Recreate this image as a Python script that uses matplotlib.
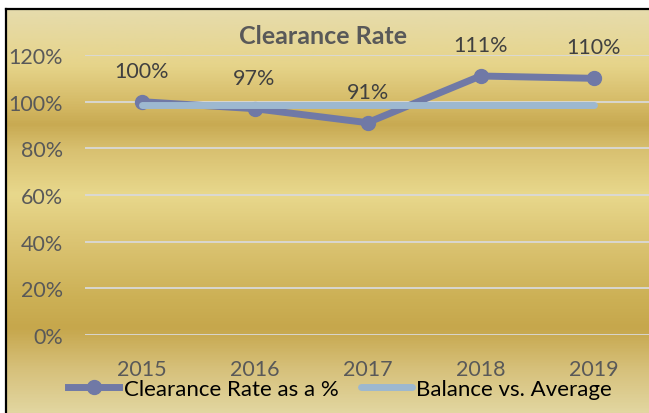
import numpy as np
import matplotlib
matplotlib.use('Agg')
import matplotlib.pyplot as plt
from matplotlib.colors import LinearSegmentedColormap
from matplotlib.lines import Line2D

years = ['2015', '2016', '2017', '2018', '2019']
clearance = [1.00, 0.97, 0.91, 1.11, 1.10]
balance = [0.987, 0.987, 0.987, 0.987, 0.987]
labels = ['100%', '97%', '91%', '111%', '110%']

plt.rcParams['font.family'] = ['Lato', 'DejaVu Sans']

W, H = 649, 414
fig = plt.figure(figsize=(W / 100, H / 100), dpi=100)
fig.patch.set_facecolor('white')

# gold gradient background (pixel rows from the top of the frame)
stops_px = [10, 30, 65, 105, 125, 150, 195, 240, 300, 330, 370, 414]
stops_col = ['#e6dcac', '#e6d9a0', '#e6d48a', '#d4b965', '#c8aa52', '#d8c070',
             '#e8d88c', '#dcc574', '#ccb055', '#c6a74c', '#d6c07a', '#e2d6a0']
pos = [(p - 10) / (414 - 10) for p in stops_px]
cmap = LinearSegmentedColormap.from_list('gold', list(zip(pos, stops_col)))
bg = fig.add_axes([6 / W, 0, 1 - 6 / W, (H - 10) / H])
bg.imshow(np.linspace(0, 1, 400).reshape(-1, 1), cmap=cmap, aspect='auto',
          extent=[0, 1, 0, 1])
bg.axis('off')

# frame border (left and top only, the rest is cropped)
fig.add_artist(Line2D([6 / W, 6 / W], [0, 1 - 10 / H], color='black', lw=1.6,
                      transform=fig.transFigure))
fig.add_artist(Line2D([6 / W, 1], [1 - 10 / H, 1 - 10 / H], color='black', lw=1.6,
                      transform=fig.transFigure))

ax = fig.add_axes([85 / W, 1 - 336 / H, (650 - 85) / W, (336 - 56) / H])
ax.set_facecolor('none')
x = np.arange(len(years))

ax.plot(x, clearance, color='#7079a6', lw=5, marker='o', markersize=10,
        label='Clearance Rate as a %', zorder=3)
ax.plot(x, balance, color='#9db8d0', lw=5, solid_capstyle='round',
        label='Balance vs. Average', zorder=4)

for xi, yi, t in zip(x, clearance, labels):
    ax.annotate(t, (xi, yi), xytext=(0, 15), textcoords='offset points',
                ha='center', va='bottom', fontsize=15.5, color='#404040')

ax.set_xlim(-0.5, 4.5)
ax.set_ylim(0, 1.2)
ax.set_yticks(np.arange(0, 1.21, 0.2))
ax.set_yticklabels([f'{int(round(v * 100))}%' for v in np.arange(0, 1.21, 0.2)])
ax.set_xticks(x)
ax.set_xticklabels(years)
ax.tick_params(axis='y', length=0, pad=16, labelsize=15.5, labelcolor='#595959')
ax.tick_params(axis='x', length=0, pad=17, labelsize=15.5, labelcolor='#595959')
ax.grid(axis='y', color='#d9d9d9', lw=1.3)
ax.set_axisbelow(True)
for s in ax.spines.values():
    s.set_visible(False)

fig.text(323 / W, 1 - 37 / H, 'Clearance Rate', ha='center', va='center',
         fontsize=18, fontweight='bold', color='#595959')

leg = ax.legend(loc='center left', bbox_to_anchor=(68 / W, 1 - 390 / H),
                bbox_transform=fig.transFigure, ncol=2, frameon=False, fontsize=16,
                handlelength=2.3, handletextpad=0.2, columnspacing=1.0,
                borderpad=0, borderaxespad=0)
for t in leg.get_texts():
    t.set_color('black')

fig.savefig('out.png', dpi=100)
